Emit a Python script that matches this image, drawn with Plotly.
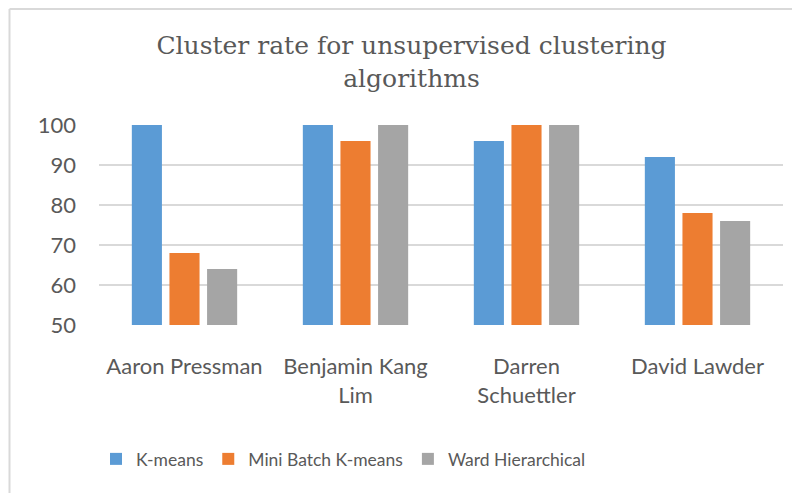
import plotly.graph_objects as go

categories = ["Aaron Pressman", "Benjamin Kang Lim", "Darren Schuettler", "David Lawder"]
tick_labels = ["Aaron Pressman", "Benjamin Kang<br>Lim", "Darren<br>Schuettler", "David Lawder"]
kmeans = [100, 100, 96, 92]
minibatch = [68, 96, 100, 78]
ward = [64, 100, 100, 76]
series_names = ["K-means", "Mini Batch K-means", "Ward Hierarchical"]
colors = ["#5B9BD5", "#ED7D31", "#A5A5A5"]

fig = go.Figure()
for name, vals, col in zip(series_names, [kmeans, minibatch, ward], colors):
    fig.add_trace(go.Bar(x=categories, y=vals, name=name, marker_color=col,
                         marker_line_width=0))

# page body has an 8px margin, so the figure is sized and laid out in page coords - 8
OFF = 8
W, H = 800 - OFF, 493 - OFF
L, R, T, B = 91, 17, 117, 168
pw, ph = W - L - R, H - T - B

def px(x):  # screen x -> paper fraction
    return (x - OFF - L) / pw

def py(y):  # screen y -> paper fraction
    return (H - B - (y - OFF)) / ph

fig.update_layout(
    width=W, height=H,
    margin=dict(l=L, r=R, t=T, b=B, autoexpand=False),
    paper_bgcolor="white", plot_bgcolor="white",
    bargap=0.34, bargroupgap=0.2,
    title=dict(text="Cluster rate for unsupervised clustering<br>algorithms",
               x=px(411.5), xref="paper", xanchor="center", y=1 - 46 / H, yanchor="middle",
               font=dict(family="DejaVu Serif", size=25, color="#595959")),
    font=dict(family="Lato", size=22, color="#595959"),
    showlegend=True,
    legend=dict(orientation="h", x=px(96), xanchor="left", y=py(459), yanchor="middle",
                font=dict(family="Lato", size=17.5, color="#595959"),
                itemwidth=30, traceorder="normal"),
    xaxis=dict(tickmode="array", tickvals=categories, ticktext=tick_labels,
               showgrid=False, showline=False, ticks="", ticklabelstandoff=26,
               automargin=False,
               tickfont=dict(family="Lato", size=22, color="#595959")),
    yaxis=dict(range=[50, 100], dtick=10, showgrid=True, gridcolor="#d9d9d9", gridwidth=1.5,
               zeroline=False, showline=False, ticks="", ticklabelstandoff=22,
               automargin=False,
               tickfont=dict(family="Lato", size=22, color="#595959")),
    shapes=[
        dict(type="line", xref="paper", yref="paper", x0=px(9.5), x1=px(800), y0=py(9), y1=py(9),
             line=dict(color="#d9d9d9", width=2)),
        dict(type="line", xref="paper", yref="paper", x0=px(9.5), x1=px(9.5), y0=py(9), y1=py(493),
             line=dict(color="#d9d9d9", width=2)),
    ],
)

fig.write_html("out.html")
